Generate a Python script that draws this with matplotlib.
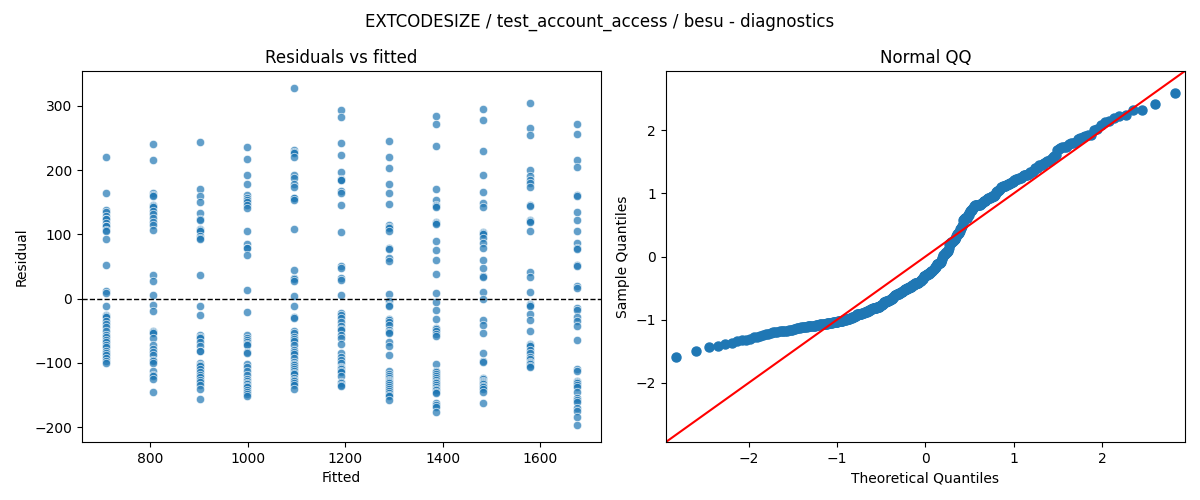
import numpy as np
import matplotlib
matplotlib.use("Agg")
import matplotlib.pyplot as plt
from statistics import NormalDist

title = "EXTCODESIZE / test_account_access / besu - diagnostics"

# fitted value of each group
fitted = [708, 805, 902, 998, 1095, 1192, 1289, 1385, 1482, 1579, 1676]

# residuals per fitted group
res_g1 = [220, 164, 138, 134, 129, 124, 124, 118, 113, 113, 107, 105, 93, 53, 12, 9,
          -12, -25, -27, -29, -35, -40, -45, -50, -57, -60, -64, -67, -72, -76, -81,
          -85, -88, -93, -97, -100]
res_g2 = [240, 215, 164, 162, 159, 146, 144, 142, 136, 132, 126, 119, 114, 106, 36, 28, 6,
          -10, -19, -50, -52, -54, -62, -72, -78, -83, -88, -95, -97, -100, -112, -119,
          -121, -125, -145]
res_g3 = [244, 171, 159, 150, 133, 124, 122, 108, 106, 105, 98, 95, 93, 37,
          -12, -25, -57, -60, -62, -68, -74, -81, -82, -100, -103, -105, -110, -114,
          -119, -122, -126, -130, -135, -140, -156]
res_g4 = [236, 218, 193, 179, 162, 157, 154, 151, 145, 141, 105, 85, 79, 79, 68, 13,
          -21, -57, -62, -64, -67, -70, -73, -83, -85, -102, -107, -112, -119, -125,
          -128, -131, -133, -136, -138, -143, -145, -148, -152]
res_g5 = [328, 231, 228, 226, 220, 192, 188, 179, 174, 157, 157, 153, 109, 44, 32, 30, 28, 4,
          -11, -29, -31, -50, -54, -60, -63, -66, -72, -80, -83, -87, -93, -98, -102,
          -104, -107, -110, -112, -116, -118, -124, -126, -128, -131, -134, -141]
res_g6 = [294, 282, 242, 223, 197, 186, 185, 184, 167, 165, 146, 103, 50, 48, 32, 29, 6,
          -22, -26, -31, -36, -43, -47, -49, -57, -62, -71, -85, -91, -96, -100, -106,
          -108, -110, -112, -115, -121, -130, -132, -134, -136]
res_g7 = [245, 220, 203, 179, 165, 148, 114, 112, 110, 105, 79, 77, 63, 58, 7,
          -3, -10, -12, -32, -34, -36, -41, -49, -52, -54, -68, -74, -88, -112, -118,
          -121, -123, -126, -128, -130, -132, -135, -138, -141, -144, -147, -150, -152, -158]
res_g8 = [284, 271, 238, 171, 154, 145, 144, 142, 119, 117, 116, 89, 75, 60, 38, 9,
          -6, -18, -32, -46, -48, -50, -55, -58, -102, -112, -115, -118, -121, -124,
          -127, -130, -132, -135, -138, -140, -143, -145, -147, -163, -166, -169, -176]
res_g9 = [295, 278, 229, 193, 166, 149, 143, 104, 102, 100, 95, 86, 79, 60, 48, 35, 33, 11,
          -1, -33, -41, -53, -85, -97, -99, -123, -125, -128, -130, -131, -133, -136,
          -138, -140, -145, -163]
res_g10 = [305, 265, 254, 200, 191, 185, 180, 173, 146, 144, 122, 120, 119, 105, 42, 34, 11,
           -8, -10, -12, -24, -33, -50, -70, -72, -74, -80, -85, -91, -94, -98, -100,
           -102, -105, -107]
res_g11 = [272, 256, 216, 205, 161, 159, 135, 123, 105, 86, 79, 77, 52, 50, 19, 16,
           -15, -17, -28, -35, -42, -65, -110, -112, -128, -130, -132, -135, -138, -146,
           -154, -158, -161, -171, -175, -185, -197]

groups = [res_g1, res_g2, res_g3, res_g4, res_g5, res_g6,
          res_g7, res_g8, res_g9, res_g10, res_g11]

x = np.concatenate([[f] * len(g) for f, g in zip(fitted, groups)]).astype(float)
resid = np.concatenate([np.array(g, dtype=float) for g in groups])

# QQ: standardized residuals against normal quantiles
n = len(resid)
sample_q = np.sort((resid - resid.mean()) / resid.std())
theo_q = np.array([NormalDist().inv_cdf(i / (n + 1)) for i in range(1, n + 1)])

fig, (ax1, ax2) = plt.subplots(1, 2, figsize=(12, 5), dpi=100)
fig.subplots_adjust(left=0.0683, right=0.9875, top=0.858, bottom=0.116, wspace=0.125)
fig.suptitle(title, fontsize=12, y=0.975)

ax1.scatter(x, resid, s=36, color="#1f77b4", alpha=0.7, edgecolors="white", linewidths=0.6)
ax1.axhline(0, color="black", linestyle="--", linewidth=1)
ax1.set_title("Residuals vs fitted")
ax1.set_xlabel("Fitted")
ax1.set_ylabel("Residual")

ax2.plot(theo_q, sample_q, marker="o", linestyle="none", color="#1f77b4", markersize=6.5)
ax2.axline((0, 0), slope=1, color="red", linewidth=1.5)
ax2.set_xlim(-2.94, 2.94)
ax2.set_ylim(-2.94, 2.94)
ax2.set_title("Normal QQ")
ax2.set_xlabel("Theoretical Quantiles")
ax2.set_ylabel("Sample Quantiles")

fig.savefig("out.png")
